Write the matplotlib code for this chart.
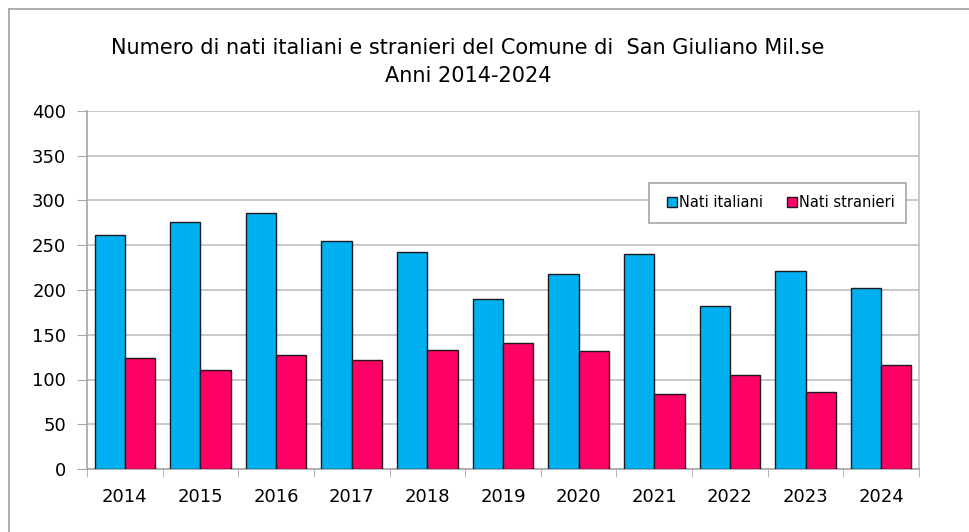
import matplotlib
matplotlib.use("Agg")
import matplotlib.pyplot as plt
import numpy as np
from matplotlib.lines import Line2D

years = ["2014", "2015", "2016", "2017", "2018", "2019", "2020", "2021", "2022", "2023", "2024"]
nati_italiani = [262, 276, 286, 255, 243, 190, 218, 240, 182, 221, 202]
nati_stranieri = [124, 111, 127, 122, 133, 141, 132, 84, 105, 86, 116]

plt.rcParams['font.family'] = ['DejaVu Sans']

fig = plt.figure(figsize=(9.69, 5.32), dpi=100)
# chart border (top and left visible)
fig.lines.append(Line2D([9/969, 1], [1 - 9/532, 1 - 9/532], transform=fig.transFigure,
                        color='#a6a6a6', linewidth=1.3))
fig.lines.append(Line2D([9/969, 9/969], [0, 1 - 9/532], transform=fig.transFigure,
                        color='#a6a6a6', linewidth=1.3))

ax = fig.add_axes([87/969, 1 - 469/532, (919 - 87)/969, (469 - 111)/532])
x = np.arange(len(years))
w = 0.4
ax.bar(x - w/2, nati_italiani, w, color='#00b0f0', edgecolor='#1a1a1a', linewidth=1.0,
       label='Nati italiani', zorder=3)
ax.bar(x + w/2, nati_stranieri, w, color='#ff0066', edgecolor='#1a1a1a', linewidth=1.0,
       label='Nati stranieri', zorder=3)

ax.set_xlim(-0.5, len(years) - 0.5)
ax.set_ylim(0, 400)
ax.set_yticks(range(0, 401, 50))
ax.set_xticks(x)
ax.set_xticklabels(years, fontsize=13)
ax.tick_params(axis='y', labelsize=13, length=7, color='#a6a6a6', pad=8)
ax.tick_params(axis='x', length=0, pad=14)
ax.set_xticks(np.arange(-0.5, len(years), 1), minor=True)
ax.tick_params(axis='x', which='minor', length=6, color='#a6a6a6')
ax.grid(axis='y', color='#bfbfbf', linewidth=1.2, zorder=0)
for s in ['top', 'right']:
    ax.spines[s].set_visible(False)
for s in ['left', 'bottom']:
    ax.spines[s].set_color('#a6a6a6')
    ax.spines[s].set_linewidth(1.2)
ax.plot([1, 1], [0, 1], transform=ax.transAxes, color='#bfbfbf', linewidth=1.2, clip_on=False)

fig.text(468/969, 1 - 48/532, "Numero di nati italiani e stranieri del Comune di  San Giuliano Mil.se",
         ha='center', va='center', fontsize=15)
fig.text(468/969, 1 - 76/532, "Anni 2014-2024", ha='center', va='center', fontsize=15)

# legend frame
fx0, fx1, fy0, fy1 = 649, 906, 183, 223
ax.add_patch(plt.Rectangle(((fx0 - 87)/832, (469 - fy1)/358), (fx1 - fx0)/832, (fy1 - fy0)/358,
                           transform=ax.transAxes, facecolor='white', edgecolor='#a6a6a6',
                           linewidth=1.2, zorder=4))
leg = ax.legend(loc='center', bbox_to_anchor=((781 - 87)/832, (469 - 203)/358),
                ncol=2, fontsize=10.5, frameon=False,
                handlelength=0.7, handleheight=0.7, handletextpad=0.15, columnspacing=1.6,
                borderaxespad=0, borderpad=0)
leg.set_zorder(5)

fig.savefig("out.png", dpi=100)
